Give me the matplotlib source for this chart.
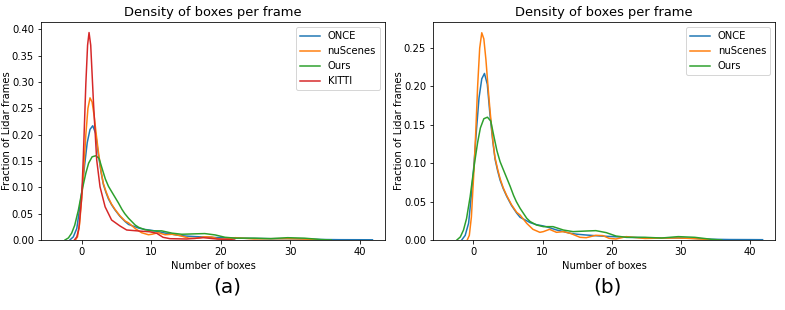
import matplotlib
matplotlib.use("Agg")
import matplotlib.pyplot as plt

# density curves (x = number of boxes, y = fraction of frames)
once_x = [-1.7, -1.2, -0.7, -0.33, 0.0, 0.43, 0.8, 1.2, 1.59, 2.0, 2.4, 2.8, 3.13, 3.5,
          3.85, 4.3, 4.8, 5.5, 6.25, 6.74, 7.7, 8.2, 9.1, 10.1, 11.0, 12.0, 13.0, 14.0,
          15.0, 16.3, 18.3, 20.2, 22.1, 24.8, 27.2, 29.6, 32.0, 34.4, 37.0, 40.0, 41.8]
once_y = [0.0, 0.006, 0.022, 0.0565, 0.09, 0.143, 0.185, 0.21, 0.217, 0.203, 0.162, 0.128,
          0.105, 0.09, 0.078, 0.067, 0.057, 0.045, 0.035, 0.0296, 0.025, 0.0226, 0.020,
          0.0183, 0.016, 0.0131, 0.011, 0.0087, 0.0075, 0.0065, 0.0052, 0.0044, 0.0035,
          0.003, 0.0025, 0.0026, 0.002, 0.001, 0.0006, 0.0005, 0.0004]

nusc_x = [-0.9, -0.6, -0.3, -0.14, 0.1, 0.34, 0.6, 0.9, 1.2, 1.5, 1.8, 2.1, 2.4, 2.8, 3.1,
          3.5, 3.85, 4.3, 4.8, 5.5, 6.25, 6.74, 7.7, 8.6, 9.6, 10.1, 11.0, 12.0, 13.0, 14.0,
          15.4, 16.3, 17.7, 18.7, 19.6, 20.6, 22.1, 24.8, 27.2, 29.6, 31.5, 33.4, 34.9]
nusc_y = [0.0, 0.006, 0.03, 0.0565, 0.095, 0.143, 0.2, 0.25, 0.270, 0.262, 0.235, 0.2,
          0.168, 0.13, 0.108, 0.092, 0.08, 0.068, 0.058, 0.046, 0.036, 0.0326, 0.0217,
          0.0139, 0.0100, 0.0109, 0.0139, 0.0100, 0.0109, 0.0087, 0.0035, 0.0030, 0.0061,
          0.0057, 0.0022, 0.0013, 0.0044, 0.002, 0.0025, 0.0026, 0.002, 0.0009, 0.0]

ours_x = [-2.4, -1.9, -1.44, -1.0, -0.48, 0.15, 0.6, 1.0, 1.5, 2.02, 2.5, 3.0, 3.4, 3.85,
          4.3, 4.8, 5.3, 5.8, 6.2, 6.74, 7.7, 8.2, 9.1, 10.1, 11.5, 13.0, 14.4, 16.3, 17.7,
          19.2, 20.6, 22.1, 24.8, 27.2, 29.6, 32.0, 34.4, 35.9]
ours_y = [0.0, 0.004, 0.013, 0.028, 0.0565, 0.100, 0.127, 0.146, 0.158, 0.160, 0.155, 0.133,
          0.116, 0.102, 0.092, 0.081, 0.07, 0.058, 0.05, 0.0413, 0.0283, 0.024, 0.0196,
          0.0174, 0.0174, 0.013, 0.0109, 0.0117, 0.0122, 0.0096, 0.0052, 0.0035, 0.0035,
          0.0026, 0.0044, 0.0035, 0.0009, 0.0]

kitti_x = [-1.05, -0.7, -0.4, 0.0, 0.23, 0.6, 0.85, 1.06, 1.3, 1.7, 2.16, 2.64, 3.37, 4.3,
           5.51, 6.47, 8.4, 9.8, 10.8, 11.7, 12.7, 15.1, 17.5, 19.4, 20.8, 22.0]
kitti_y = [0.0, 0.006, 0.022, 0.08, 0.155, 0.297, 0.37, 0.394, 0.37, 0.26, 0.152, 0.101,
           0.063, 0.038, 0.0266, 0.019, 0.0169, 0.0156, 0.0127, 0.0051, 0.0025, 0.0019,
           0.0044, 0.0019, 0.0013, 0.0]


def draw_panel(ax, curves, ymax):
    """Draws one density panel with the given (label, x, y) curves."""
    for label, xs, ys in curves:
        ax.plot(xs, ys, label=label, linewidth=1.5)
    ax.set_xlim(-5.85, 43.6)
    ax.set_ylim(0, ymax)
    ax.set_title("Density of boxes per frame", fontsize=13)
    ax.set_xlabel("Number of boxes")
    ax.set_ylabel("Fraction of Lidar frames")
    ax.yaxis.set_label_coords(-0.085, 0.5)
    ax.legend(loc="upper right")


fig = plt.figure(figsize=(785 / 72, 310 / 72), dpi=72)
ax_a = fig.add_axes([0.0522, 0.2258, 0.4382, 0.7032])
ax_b = fig.add_axes([0.5516, 0.2258, 0.4357, 0.7032])

draw_panel(ax_a, [("ONCE", once_x, once_y), ("nuScenes", nusc_x, nusc_y),
                  ("Ours", ours_x, ours_y), ("KITTI", kitti_x, kitti_y)], 0.414)
draw_panel(ax_b, [("ONCE", once_x, once_y), ("nuScenes", nusc_x, nusc_y),
                  ("Ours", ours_x, ours_y)], 0.284)

fig.text(227 / 785, 1 - 287 / 310, "(a)", fontsize=20, ha="center", va="center")
fig.text(607 / 785, 1 - 287 / 310, "(b)", fontsize=20, ha="center", va="center")

fig.savefig("out.png", dpi=72)
